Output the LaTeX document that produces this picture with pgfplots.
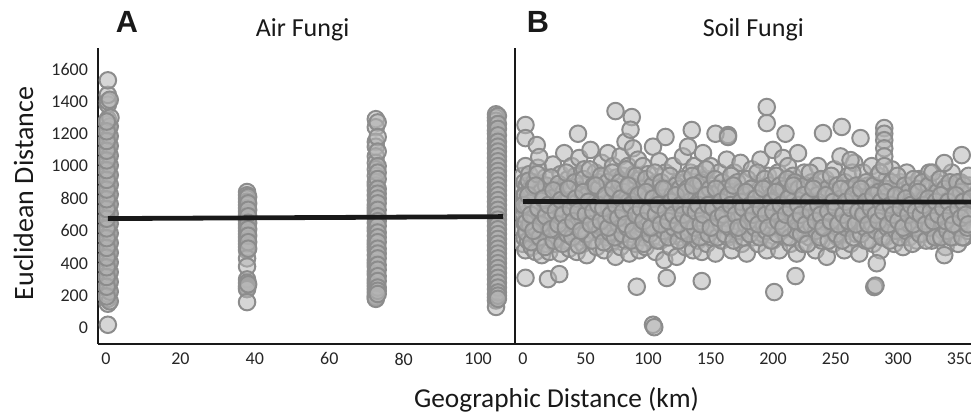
\documentclass[border=0pt]{standalone}
\usepackage{pgfplots}
\pgfplotsset{compat=1.18}
\usepackage{fontspec}
\setmainfont{Carlito}
\newfontfamily\arialbold{Liberation Sans}[BoldFont={* Bold}]
\definecolor{edgegray}{HTML}{8C8C8C}
\definecolor{fillgray}{HTML}{B5B5B5}
\pgfplotsset{
  pnl/.style={
    scale only axis, anchor=south west,
    axis x line*=bottom, axis y line*=left,
    axis line style={line width=2.2pt, black!90},
    major tick length=0pt,
    clip marker paths=true,
    ticklabel style={font=\fontsize{13.5}{15}\selectfont, text=black!85},
    /pgf/number format/assume math mode=true,
    /pgf/number format/1000 sep={},
    ymin=-98.8, ymax=1729.7,
    height=222pt,
  },
  dots/.style={only marks, mark=*, mark size=6.2pt,
    mark options={draw=edgegray, fill=fillgray, line width=1.5pt, fill opacity=0.55, draw opacity=1}},
  fit/.style={no marks, line width=3.6pt, color=black!90, opacity=1},
}
\begin{document}
\begin{tikzpicture}
\useasboundingbox (0,0) rectangle (728.25pt,309.75pt);
% Panel A
\begin{axis}[pnl, at={(73.5pt,51.75pt)}, width=312.75pt,
  xmin=-2.15, xmax=109.9,
  xtick={0,20,40,60,80,100},
  ytick={0,200,400,600,800,1000,1200,1400,1600},
  xticklabel style={yshift=-3pt},
  yticklabel style={xshift=-4pt},
]
\addplot[dots] table {
x y
0.5 20
0.5 150
0.5 180
0.5 210
0.5 240
0.5 270
0.5 300
0.5 330
0.5 360
0.5 390
0.5 420
0.5 450
0.5 480
0.5 510
0.5 540
0.5 570
0.5 600
0.5 630
0.5 660
0.5 690
0.5 720
0.5 750
0.5 780
0.5 810
0.5 840
0.5 870
0.5 900
0.5 930
0.5 960
0.5 990
0.5 1020
0.5 1050
0.5 1080
0.5 1110
0.5 1140
0.5 1170
0.5 1200
0.5 1230
0.5 1260
0.5 1290
0.5 1380
0.5 1400
0.5 1440
1.0 1410
0.5 1530
1.0 165
1.0 225
1.0 285
1.0 345
1.0 405
1.0 465
1.0 525
1.0 585
1.0 645
1.0 705
1.0 765
1.0 825
1.0 885
1.0 945
1.0 1005
1.0 1065
1.0 1125
1.0 1185
1.0 1245
1.2 1300
0.2 195
0.2 255
0.2 315
0.2 375
0.2 435
0.2 495
0.2 555
0.2 615
0.2 675
0.2 735
0.2 795
0.2 855
0.2 915
0.2 975
0.2 1035
0.2 1095
0.2 1155
0.2 1215
0.2 1275
37.9 840
37.9 820
37.9 800
37.9 780
37.9 760
37.9 740
37.9 720
37.9 700
37.9 680
37.9 660
37.9 640
37.9 620
37.9 600
37.9 580
37.9 560
37.9 540
37.9 520
37.9 500
37.9 480
37.9 430
37.9 380
37.9 300
37.9 280
37.9 260
37.9 250
37.9 240
37.9 160
38.2 810
38.2 770
38.2 730
38.2 690
38.2 650
38.2 610
38.2 570
38.2 530
38.2 490
38.2 270
72.5 1290
72.5 1240
72.5 1150
72.5 1120
72.5 1060
72.5 1020
72.5 980
72.5 940
72.5 900
72.5 880
72.5 850
72.5 820
72.5 790
72.5 760
72.5 740
72.5 720
72.5 700
72.5 680
72.5 650
72.5 620
72.5 600
72.5 570
72.5 540
72.5 520
72.5 500
72.5 480
72.5 450
72.5 420
72.5 400
72.5 380
72.5 350
72.5 330
72.5 300
72.5 280
72.5 260
72.5 240
72.5 220
72.5 200
72.5 190
72.5 180
73 1270
73 1180
73 1090
73 1000
73 960
73 920
73 860
73 830
73 800
73 770
73 730
73 690
73 660
73 630
73 590
73 560
73 530
73 490
73 460
73 430
73 390
73 360
73 320
73 290
73 250
73 230
73 210
104.8 1320
104.8 1300
104.8 1280
104.8 1250
104.8 1220
104.8 1200
104.8 1170
104.8 1140
104.8 1110
104.8 1080
104.8 1050
104.8 1020
104.8 990
104.8 960
104.8 930
104.8 900
104.8 870
104.8 840
104.8 810
104.8 780
104.8 750
104.8 720
104.8 690
104.8 660
104.8 630
104.8 600
104.8 570
104.8 540
104.8 510
104.8 480
104.8 450
104.8 420
104.8 390
104.8 360
104.8 330
104.8 300
104.8 270
104.8 240
104.8 210
104.8 190
104.8 170
104.8 130
105.3 1310
105.3 1260
105.3 1230
105.3 1190
105.3 1150
105.3 1120
105.3 1090
105.3 1060
105.3 1030
105.3 1000
105.3 970
105.3 940
105.3 910
105.3 880
105.3 850
105.3 820
105.3 790
105.3 760
105.3 730
105.3 700
105.3 670
105.3 640
105.3 610
105.3 580
105.3 550
105.3 520
105.3 490
105.3 460
105.3 430
105.3 400
105.3 370
105.3 340
105.3 310
105.3 280
105.3 250
105.3 220
105.3 200
105.3 180
};
\addplot[fit] coordinates {(0.5,676) (106.7,688)};
\end{axis}
% Panel B
\begin{axis}[pnl, at={(386.25pt,51.75pt)}, width=342pt,
  xmin=-6.4, xmax=358.4,
  xtick={0,50,100,150,200,250,300,350},
  ytick=\empty,
  xticklabel style={yshift=-3pt},
]
\addplot[dots] table {
x y
0 520
0 610
0 700
0 780
0 860
0 940
1 560
1 650
1 740
1 820
1 900
2 480
2 1000
3 600
3 690
3 760
3 880
4 540
5 720
5 800
5 950
6 620
6 860
7 500
7 680
8 770
8 580
9 900
9 640
10 720
10 470
11 830
12 560
12 990
13 650
14 760
15 450
15 880
16 610
17 700
18 520
18 930
19 780
20 650
21 470
21 850
22 730
23 560
24 1010
24 640
25 790
26 520
27 870
28 700
29 600
30 950
30 460
31 760
32 640
33 1080
33 540
34 830
35 700
36 920
36 600
37 490
38 760
39 1000
39 650
40 840
41 560
41 720
42 940
43 470
43 800
44 660
45 1050
45 580
46 760
47 880
48 520
48 690
49 980
50 610
50 800
51 450
52 720
52 900
53 640
54 1100
54 540
55 770
56 860
57 600
57 700
58 960
59 500
59 820
60 680
61 900
62 580
62 740
63 1020
64 640
64 820
65 480
66 710
66 940
67 560
68 790
68 1080
69 650
70 870
70 520
71 730
72 1000
72 600
73 820
74 690
74 440
75 930
76 560
76 760
77 870
77 650
78 1060
78 500
79 720
79 820
80 600
80 940
81 680
81 780
82 1150
82 540
83 860
83 700
84 620
84 1000
85 760
85 460
86 900
86 660
87 580
87 820
88 1110
88 720
89 640
89 950
90 520
90 780
91 870
91 690
92 1040
92 600
93 750
93 480
94 920
94 680
95 820
95 560
96 1000
96 720
97 640
97 880
98 500
99 780
100 600
100 950
101 700
102 840
103 550
104 1120
104 660
105 760
106 470
107 900
108 620
109 1030
110 720
110 540
111 830
112 650
113 420
114 960
115 580
116 740
117 860
118 500
119 660
120 1000
121 780
122 600
123 440
124 900
125 700
126 560
127 820
128 1060
128 650
129 740
130 500
130 900
131 620
132 800
132 1120
133 700
133 560
134 960
135 660
135 840
136 480
137 760
137 1000
138 600
138 880
139 700
140 540
140 820
141 950
141 640
142 740
143 860
143 470
144 1080
144 600
145 780
146 680
147 920
147 520
148 820
149 640
150 1000
150 730
151 560
152 880
153 680
154 460
155 800
156 620
157 960
158 720
159 540
160 860
161 650
162 780
163 1040
164 560
165 720
166 880
167 480
168 660
169 960
170 760
171 590
172 840
173 700
174 1020
175 520
176 640
177 900
178 760
179 460
180 620
181 820
182 700
183 980
184 560
185 760
186 880
187 640
188 520
189 760
190 1040
191 680
192 580
193 860
194 720
195 480
196 940
197 800
198 620
199 700
200 1100
200 540
201 860
202 760
203 640
204 960
205 700
205 480
206 820
207 600
208 1050
208 720
209 900
210 560
211 780
212 660
212 1000
213 860
214 520
215 740
216 620
216 940
217 820
218 700
219 460
220 1080
220 780
221 600
222 880
223 680
224 520
225 960
226 740
227 640
228 840
229 560
230 720
231 900
232 600
233 800
234 480
235 700
236 1000
237 620
238 860
239 540
240 760
241 680
242 920
243 440
244 780
245 600
246 860
247 700
248 520
249 980
250 650
251 800
252 560
253 720
254 1060
255 640
256 880
257 480
258 760
259 600
260 940
261 700
262 520
263 820
264 660
265 1020
266 760
267 580
268 880
269 460
270 720
271 640
272 960
273 800
274 540
275 700
276 880
277 620
278 760
279 1000
280 520
281 680
282 840
283 600
284 940
285 740
286 480
287 860
288 660
289 780
290 560
291 920
292 700
293 820
294 620
295 980
296 740
297 520
298 860
299 660
300 780
301 600
302 900
303 720
304 500
305 820
306 640
307 960
308 760
309 560
310 880
311 680
312 780
313 620
314 840
315 540
316 720
317 920
318 660
319 800
320 580
321 700
322 860
323 620
324 760
325 960
326 680
327 540
328 820
329 720
330 640
331 900
332 560
333 780
334 680
335 840
336 600
337 740
338 500
339 880
340 700
341 620
342 800
343 960
344 560
345 740
346 860
347 660
348 520
349 780
350 900
351 640
352 740
353 560
354 820
355 700
356 600
357 880
0.5 700
1.5 820
2.5 590
3.5 760
4.5 910
5.5 640
6.5 530
7.5 780
8.5 870
9.5 690
10.5 610
11.5 950
12.5 730
13.5 560
14.5 840
15.5 670
16.5 790
17.5 500
18.5 880
19.5 720
20.5 620
21.5 760
22.5 930
23.5 680
24.5 540
25.5 810
26.5 710
27.5 600
28.5 890
29.5 770
30.5 650
31.5 520
32.5 840
33.5 720
34.5 960
35.5 580
36.5 790
37.5 680
38.5 870
39.5 560
40.5 740
41.5 900
42.5 630
43.5 780
44.5 510
45.5 850
46.5 690
47.5 610
48.5 920
49.5 750
50.5 580
51.5 820
52.5 660
53.5 980
54.5 730
55.5 540
56.5 880
57.5 770
58.5 640
59.5 720
60.5 860
61.5 600
62.5 940
63.5 700
64.5 530
65.5 810
66.5 660
67.5 900
68.5 740
69.5 590
70.5 780
71.5 960
72.5 680
73.5 560
74.5 830
75.5 720
76.5 640
77.5 900
78.5 760
79.5 580
80.5 840
81.5 700
82.5 980
83.5 620
84.5 780
85.5 880
86.5 540
87.5 730
88.5 660
89.5 820
90.5 940
91.5 600
92.5 760
93.5 700
94.5 860
95.5 640
96.5 520
97.5 780
98.5 920
99.5 680
100.5 800
101.5 580
102.5 720
103.5 880
104.5 620
105.5 960
106.5 700
107.5 540
108.5 820
109.5 660
110.5 900
111.5 740
112.5 600
113.5 780
114.5 860
115.5 690
116.5 560
117.5 940
118.5 720
119.5 820
120.5 620
121.5 700
122.5 880
123.5 760
124.5 540
125.5 860
126.5 680
127.5 600
128.5 920
129.5 780
130.5 700
131.5 860
132.5 580
133.5 780
134.5 660
135.5 940
136.5 720
137.5 620
138.5 800
139.5 880
140.5 680
141.5 560
142.5 900
143.5 720
144.5 820
145.5 640
146.5 980
147.5 740
148.5 580
149.5 860
150.5 680
151.5 780
152.5 620
153.5 920
154.5 720
155.5 560
156.5 840
157.5 700
158.5 640
159.5 900
160.5 760
161.5 580
162.5 860
163.5 680
164.5 800
165.5 620
166.5 940
167.5 720
168.5 540
169.5 820
170.5 660
171.5 900
172.5 600
173.5 760
174.5 840
175.5 700
176.5 560
177.5 780
178.5 640
179.5 920
180.5 720
181.5 580
182.5 860
183.5 680
184.5 800
185.5 620
186.5 740
187.5 960
188.5 700
189.5 560
190.5 840
191.5 760
192.5 640
193.5 920
194.5 600
195.5 780
196.5 700
197.5 880
198.5 540
199.5 820
200.5 660
201.5 740
202.5 940
203.5 580
204.5 800
205.5 880
206.5 700
207.5 640
208.5 860
209.5 760
210.5 620
211.5 920
212.5 720
213.5 560
214.5 840
215.5 680
216.5 780
217.5 900
218.5 600
219.5 740
220.5 860
221.5 700
222.5 580
223.5 800
224.5 640
225.5 880
226.5 760
227.5 520
228.5 720
229.5 960
230.5 640
231.5 780
232.5 700
233.5 880
234.5 600
235.5 820
236.5 740
237.5 560
238.5 920
239.5 680
240.5 800
241.5 620
242.5 720
243.5 860
244.5 540
245.5 760
246.5 940
247.5 640
248.5 820
249.5 700
250.5 580
251.5 880
252.5 760
253.5 660
254.5 800
255.5 540
256.5 720
257.5 900
258.5 620
259.5 780
260.5 860
261.5 640
262.5 740
263.5 960
264.5 560
265.5 700
266.5 880
267.5 800
268.5 660
269.5 780
270.5 580
271.5 840
272.5 720
273.5 620
274.5 900
275.5 760
276.5 540
277.5 820
278.5 700
279.5 640
280.5 880
281.5 780
282.5 600
283.5 720
284.5 840
285.5 960
286.5 660
287.5 560
288.5 800
289.5 700
290.5 860
291.5 620
292.5 760
293.5 540
294.5 900
295.5 680
296.5 800
297.5 720
298.5 600
299.5 940
300.5 700
301.5 560
302.5 820
303.5 660
304.5 760
305.5 880
306.5 600
307.5 720
308.5 840
309.5 640
310.5 780
311.5 520
312.5 920
313.5 700
314.5 620
315.5 860
316.5 760
317.5 580
318.5 740
319.5 900
320.5 660
321.5 800
322.5 540
323.5 720
324.5 880
325.5 620
326.5 780
327.5 960
328.5 680
329.5 560
330.5 760
331.5 840
332.5 660
333.5 920
334.5 560
335.5 720
336.5 640
337.5 860
338.5 780
339.5 600
340.5 740
341.5 900
342.5 560
343.5 700
344.5 820
345.5 640
346.5 760
347.5 900
348.5 620
349.5 720
350.5 840
351.5 560
352.5 880
353.5 680
354.5 780
355.5 620
356.5 940
357.5 720
0.25 760
2.25 650
4.25 820
6.25 700
8.25 600
10.25 880
12.25 740
14.25 640
16.25 800
18.25 690
20.25 760
22.25 610
24.25 850
26.25 720
28.25 640
30.25 790
32.25 700
34.25 620
36.25 860
38.25 740
40.25 660
42.25 800
44.25 720
46.25 600
48.25 840
50.25 700
52.25 780
54.25 640
56.25 720
58.25 880
60.25 760
62.25 660
64.25 740
66.25 820
68.25 620
70.25 700
72.25 860
74.25 760
76.25 680
78.25 800
80.25 720
82.25 640
84.25 880
86.25 760
88.25 600
90.25 700
92.25 820
94.25 740
96.25 660
98.25 840
100.25 720
102.25 620
104.25 800
106.25 700
108.25 760
110.25 640
112.25 860
114.25 720
116.25 660
118.25 780
120.25 700
122.25 820
124.25 640
126.25 760
128.25 700
130.25 840
132.25 660
134.25 740
136.25 880
138.25 720
140.25 760
142.25 640
144.25 700
146.25 820
148.25 760
150.25 620
152.25 740
154.25 860
156.25 680
158.25 780
160.25 700
162.25 640
164.25 820
166.25 760
168.25 880
170.25 700
172.25 620
174.25 780
176.25 740
178.25 840
180.25 660
182.25 760
184.25 700
186.25 800
188.25 640
190.25 740
192.25 860
194.25 700
196.25 620
198.25 780
200.25 720
202.25 840
204.25 660
206.25 760
208.25 620
210.25 700
212.25 800
214.25 740
216.25 880
218.25 660
220.25 760
222.25 700
224.25 820
226.25 640
228.25 780
230.25 720
232.25 860
234.25 660
236.25 760
238.25 700
240.25 620
242.25 820
244.25 720
246.25 660
248.25 780
250.25 740
252.25 640
254.25 860
256.25 700
258.25 780
260.25 660
262.25 740
264.25 820
266.25 640
268.25 720
270.25 860
272.25 700
274.25 780
276.25 640
278.25 740
280.25 820
282.25 700
284.25 660
286.25 780
288.25 720
290.25 840
292.25 640
294.25 760
296.25 700
298.25 820
300.25 660
302.25 740
304.25 620
306.25 800
308.25 700
310.25 760
312.25 640
314.25 720
316.25 840
318.25 700
320.25 760
322.25 640
324.25 800
326.25 720
328.25 660
330.25 780
332.25 700
334.25 820
336.25 740
338.25 660
340.25 780
342.25 700
344.25 640
346.25 820
348.25 740
350.25 680
352.25 780
354.25 700
356.25 640
358.25 800
104 20
105 5
2 310
20 302
29 333
91 255
115 309
143 290
201 222
218 321
281 253
282 262
283 400
337 450
74 1340
87 1303
2 1254
2 1173
11 1130
13 1056
195 1365
195 1266
164 1192
255 1242
240 1204
270 1173
289 1235
289 1200
289 1160
289 1110
289 1060
289 1000
114 1180
44 1200
135 1223
154 1200
164 1180
86 1225
210 1200
337 1019
351 1068
262 1037
};
\addplot[fit] coordinates {(0,781) (358.4,778)};
\end{axis}
\node[font=\arialbold\bfseries\fontsize{23}{26}\selectfont, text=black!90, anchor=base] at (95.25pt,285pt) {A};
\node[font=\fontsize{19.5}{22}\selectfont, text=black!90, anchor=base] at (226.9pt,282pt) {Air Fungi};
\node[font=\arialbold\bfseries\fontsize{23}{26}\selectfont, text=black!90, anchor=base] at (403.5pt,285.5pt) {B};
\node[font=\fontsize{19.5}{22}\selectfont, text=black!90, anchor=base] at (565pt,282pt) {Soil Fungi};
\node[font=\fontsize{21}{24}\selectfont, text=black!90, rotate=90, anchor=base] at (24.75pt,164.6pt) {Euclidean Distance};
\node[font=\fontsize{20.5}{23}\selectfont, text=black!90, anchor=base] at (417.4pt,3.75pt) {Geographic Distance (km)};
\end{tikzpicture}
\end{document}
